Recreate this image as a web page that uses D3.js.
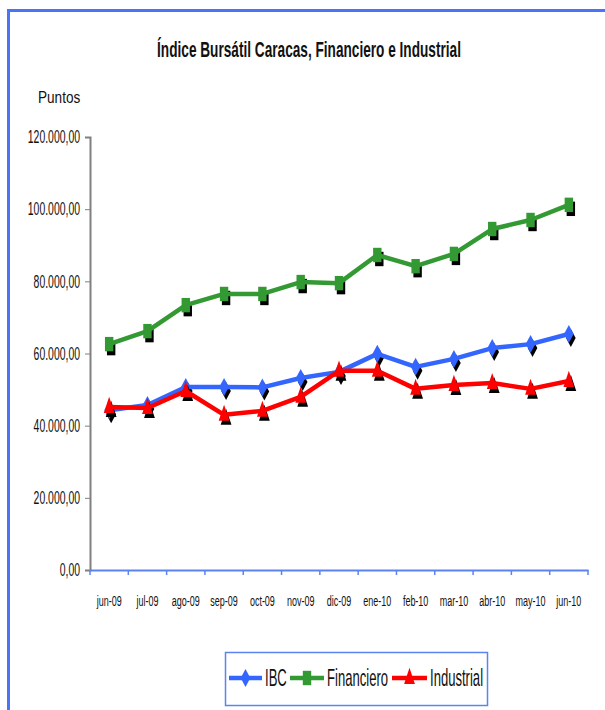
<!DOCTYPE html>
<html><head><meta charset="utf-8">
<script src="https://cdn.jsdelivr.net/npm/d3@7"></script>
<style>
html,body{margin:0;padding:0;background:#fff;}
text{font-family:"Liberation Sans",Arial,sans-serif;}
</style></head>
<body>
<svg id="c" width="605" height="710"></svg>
<script>
const categories = ["jun-09","jul-09","ago-09","sep-09","oct-09","nov-09","dic-09","ene-10","feb-10","mar-10","abr-10","may-10","jun-10"];
const ibc        = [44300,45700,50700,50700,50600,53200,54900,59900,56300,58500,61500,62600,65400];
const financiero = [62600,66200,73400,76500,76500,79800,79500,87300,84200,87600,94500,97000,101200];
const industrial = [45200,44900,49600,43000,44100,48000,55200,55200,50200,51300,51800,50200,52400];
const yTicks = [0,20000,40000,60000,80000,100000,120000];
const seriesNames = ["IBC","Financiero","Industrial"];
const seriesColors = ["#3366ff","#339933","#ff0000"];
const seriesShapes = ["diamond","square","triangle"];
const seriesValues = [ibc, financiero, industrial];

const svg = d3.select("#c");
svg.append("path").attr("d","M8.5,720 L8.5,10.5 L620,10.5").attr("fill","none").attr("stroke","#4a74f5").attr("stroke-width",3);

const x = d3.scaleBand().domain(categories).range([90,588]);
const y = d3.scaleLinear().domain([0,120000]).range([570,137]);

function stext(px, py, str, size, sx, anchor, weight){
  return svg.append("text").attr("transform",`translate(${px},${py}) scale(${sx},1)`)
    .attr("text-anchor",anchor||"start").attr("font-size",size)
    .attr("font-weight",weight||"normal").attr("fill","#111").text(str);
}

stext(309, 57, "Índice Bursátil Caracas, Financiero e Industrial", 22, 0.62, "middle", "bold");
stext(38, 103, "Puntos", 17, 0.8, "start");

const fmt = v => d3.format(",.2f")(v).replace(/,/g,"#").replace(/\./g,",").replace(/#/g,".");

const ySX = 0.58;
const ya = svg.append("g").attr("transform","translate(90,0)")
  .call(d3.axisLeft(y).tickValues(yTicks).tickSize(5).tickFormat(fmt));
ya.select(".domain").attr("stroke","#808080").attr("stroke-width",2);
ya.selectAll(".tick line").attr("stroke","#808080");
ya.selectAll("text").attr("font-size",18).attr("fill","#111").attr("x",-10/ySX)
  .attr("transform",`scale(${ySX},1)`);

const xSX = 0.58;
const xa = svg.append("g").attr("transform","translate(0,570)")
  .call(d3.axisBottom(x).tickSize(0).tickFormat(d=>d));
xa.select(".domain").attr("stroke","#5b84f0").attr("stroke-width",2);
xa.selectAll("text").attr("font-size",15.5).attr("fill","#111").attr("dy",0).attr("y",36)
  .attr("transform",`scale(${xSX},1)`);
const bounds = categories.map(c=>x(c)).concat([x.range()[1]]);
svg.append("g").selectAll("line").data(bounds).join("line")
  .attr("x1",d=>d).attr("x2",d=>d).attr("y1",570).attr("y2",575)
  .attr("stroke","#5b84f0").attr("stroke-width",1.5);

const cx = c => x(c) + x.bandwidth()/2;

function marker(g, shape, color, s){
  if(shape==="diamond"){
    g.append("path").attr("d",`M0,${-s*0.75} L${s*0.4},0 L0,${s*0.75} L${-s*0.4},0 Z`).attr("fill",color);
  } else if(shape==="square"){
    g.append("rect").attr("x",-s*0.35).attr("y",-s*0.6).attr("width",s*0.7).attr("height",s*1.2).attr("fill",color);
  } else {
    g.append("path").attr("d",`M0,${-s*0.85} L${s*0.45},${s*0.5} L${-s*0.45},${s*0.5} Z`).attr("fill",color);
  }
}

seriesValues.forEach((vals,i)=>{
  const pts = categories.map((c,j)=>[cx(c), y(vals[j])]);
  const sh = svg.append("g");
  pts.forEach(p=>{
    const g = sh.append("g").attr("transform",`translate(${p[0]+2},${p[1]+4})`);
    marker(g, seriesShapes[i], "#000", 12);
  });
  svg.append("path").datum(pts).attr("d",d3.line()).attr("fill","none")
    .attr("stroke",seriesColors[i]).attr("stroke-width",4.5).attr("stroke-linejoin","round");
  const mk = svg.append("g");
  pts.forEach(p=>{
    const g = mk.append("g").attr("transform",`translate(${p[0]},${p[1]})`);
    marker(g, seriesShapes[i], seriesColors[i], 12);
  });
});

// legend
svg.append("rect").attr("x",225.5).attr("y",652.5).attr("width",262).attr("height",53)
  .attr("fill","#fff").attr("stroke","#5b84f0").attr("stroke-width",1.5);
const legX = [229, 290, 392];
const legW = [33, 34, 35];
seriesNames.forEach((n,i)=>{
  const g = svg.append("g");
  g.append("line").attr("x1",legX[i]).attr("x2",legX[i]+legW[i]).attr("y1",678).attr("y2",678)
    .attr("stroke",seriesColors[i]).attr("stroke-width",4.5);
  const m = g.append("g").attr("transform",`translate(${legX[i]+legW[i]/2},678)`);
  marker(m, seriesShapes[i], seriesColors[i], 12);
  stext(legX[i]+legW[i]+3, 686, n, 24, 0.545, "start");
});
</script>
</body></html>
